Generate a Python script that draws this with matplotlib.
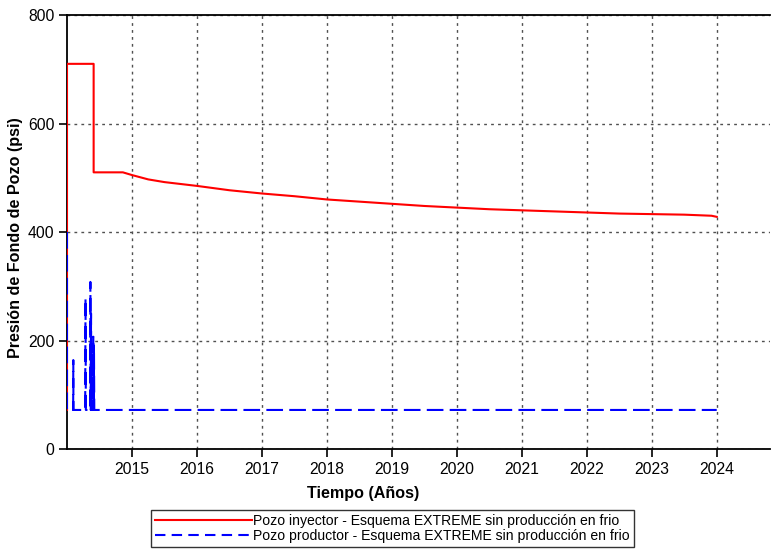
import matplotlib
matplotlib.use("Agg")
import matplotlib.pyplot as plt
from matplotlib.lines import Line2D

plt.rcParams['font.family'] = ['Liberation Sans', 'DejaVu Sans']

# Injector well bottom-hole pressure (psi) vs time (years)
inj_t = [2014.0, 2014.0, 2014.41, 2014.41, 2014.86, 2015.0, 2015.25, 2015.5,
         2016.0, 2016.5, 2017.0, 2017.5, 2018.0, 2018.5, 2019.0, 2019.5,
         2020.0, 2020.5, 2021.0, 2021.5, 2022.0, 2022.5, 2023.0, 2023.5,
         2023.92, 2024.0]
inj_p = [72, 710, 710, 510, 510, 505, 497, 492,
         485, 477, 471, 466, 460, 456, 452, 448,
         445, 442, 440, 438, 436, 434, 433, 432,
         430, 428]

# Producer well bottom-hole pressure (psi) vs time (years)
prod_t = [2014.0, 2014.0, 2014.095, 2014.097, 2014.099, 2014.28, 2014.285,
          2014.29, 2014.355, 2014.36, 2014.365, 2014.37, 2014.375, 2014.40,
          2014.405, 2014.41, 2014.415, 2014.42, 2024.0]
prod_p = [400, 72, 72, 164, 72, 72, 278,
          72, 72, 308, 72, 250, 72, 72,
          207, 72, 190, 72, 72]

year_ticks = list(range(2015, 2025))
y_ticks = [0, 200, 400, 600, 800]

label_inj = "Pozo inyector - Esquema EXTREME sin producción en frio"
label_prod = "Pozo productor - Esquema EXTREME sin producción en frio"

fig = plt.figure(figsize=(7.71, 5.5), dpi=100)
ax = fig.add_axes([0.0869, 0.1836, 0.9118, 0.7891])

red = '#ff0000'
blue = '#0000ff'
ax.plot(inj_t, inj_p, color=red, lw=1.5, zorder=3)
ax.plot(prod_t, prod_p, color=blue, lw=1.5, dashes=(8, 3), zorder=4)

ax.set_xlim(2014.0, 2024.82)
ax.set_ylim(0, 800)
ax.set_xticks(year_ticks)
ax.set_xticklabels([str(y) for y in year_ticks])
ax.set_yticks(y_ticks)

ax.grid(True, color='#505050', linestyle=(0, (2, 3)), linewidth=1.0)
ax.set_axisbelow(True)

for s in ['left', 'bottom', 'top']:
    ax.spines[s].set_color('black')
    ax.spines[s].set_linewidth(1.3)
ax.spines['right'].set_visible(False)

ax.tick_params(axis='both', direction='out', length=6, width=1.2,
               labelsize=11.3, colors='black', pad=3)

ax.set_xlabel("Tiempo (Años)", fontsize=11.6, fontweight='bold')
ax.xaxis.set_label_coords(0.421, -0.086)
ax.set_ylabel("Presión de Fondo de Pozo (psi)", fontsize=11.6,
              fontweight='bold')
ax.yaxis.set_label_coords(-0.062, 0.487)

handles = [Line2D([], [], color=red, lw=1.5),
           Line2D([], [], color=blue, lw=1.5, dashes=(5, 3))]
leg = fig.legend(handles, [label_inj, label_prod], loc='center',
                 bbox_to_anchor=(0.509, 0.039), ncol=1, fontsize=10.1,
                 frameon=True, fancybox=False, edgecolor='black',
                 handlelength=6.9, handletextpad=0.1, borderpad=0.3,
                 labelspacing=0.05, borderaxespad=0)
leg.get_frame().set_linewidth(1.0)

fig.savefig("out.png", dpi=100)
